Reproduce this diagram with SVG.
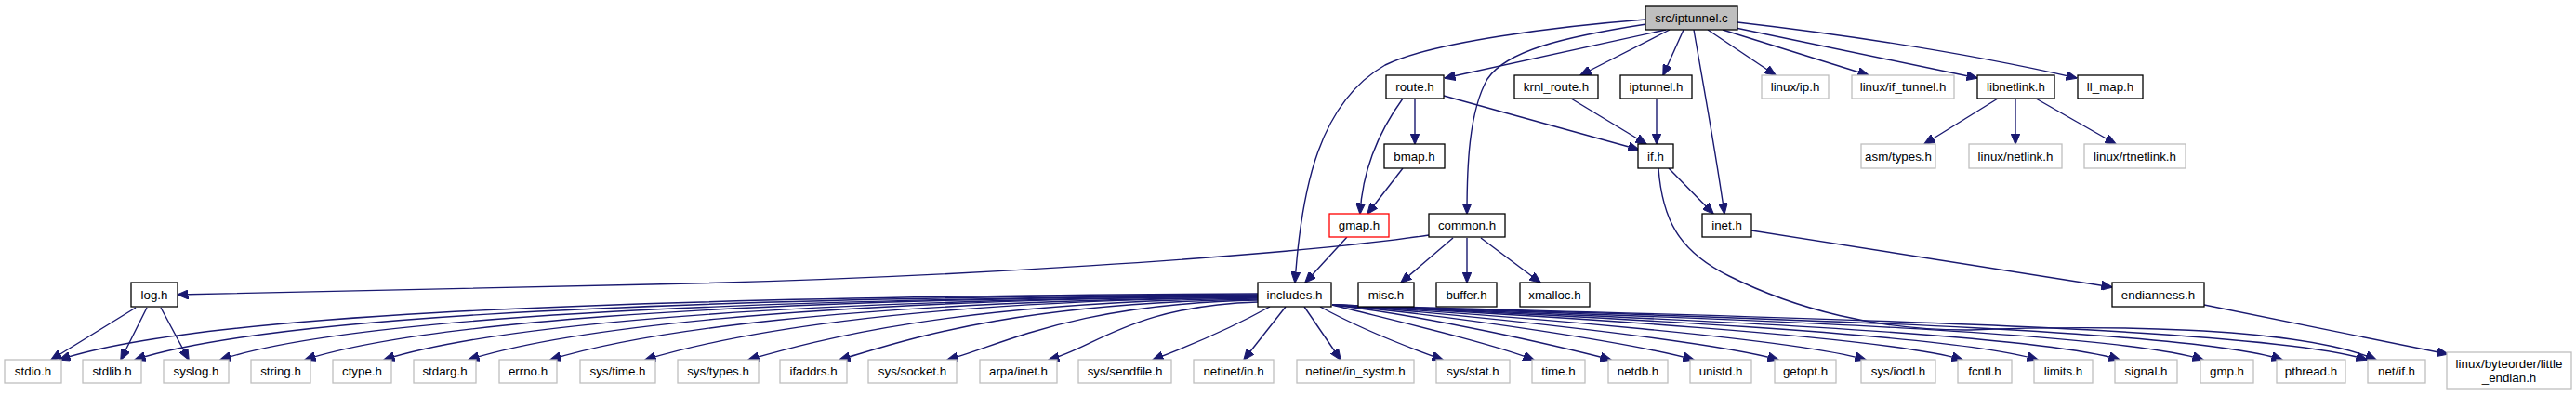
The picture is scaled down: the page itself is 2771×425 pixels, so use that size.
<svg xmlns="http://www.w3.org/2000/svg" width="2771" height="425" viewBox="0 0 2771 425">
<defs>
<style>
rect{fill:#fff;stroke:#000;stroke-width:1.3}
.x rect{stroke:#bfbfbf}
.r rect{stroke:#ff0000}
.root rect{fill:#bfbfbf}
text{font-family:"Liberation Sans",Arial,sans-serif;font-size:13.33px;text-anchor:middle;fill:#000}
#edges path{fill:none;stroke:#191970;stroke-width:1.4;marker-end:url(#ah)}
</style>
<marker id="ah" viewBox="0 0 12 10" refX="11.5" refY="5" markerWidth="12" markerHeight="10" markerUnits="userSpaceOnUse" orient="auto"><path d="M0,0 L12,5 L0,10 z" fill="#191970" stroke="#191970" stroke-width="1"/></marker>
</defs>
<rect x="0" y="0" width="2771" height="425" style="fill:#fff;stroke:none"/>
<g id="edges">
<path d="M1792,32 L1554,84"/>
<path d="M1796,32 L1700,81"/>
<path d="M1811,32 L1789,81"/>
<path d="M1837,32 L1910,81"/>
<path d="M1853,32 L2010,81"/>
<path d="M1867,30 L2127,84"/>
<path d="M1869,24 C1990,38 2120,58 2234,84"/>
<path d="M1822,32 C1832,90 1845,160 1855,230"/>
<path d="M1771,26 C1680,40 1620,55 1600,85 C1580,120 1578,180 1578,230"/>
<path d="M1770,21 C1680,28 1540,45 1490,70 C1420,110 1400,200 1393,304"/>
<path d="M1522,106 L1522,155"/>
<path d="M1509,106 C1488,135 1466,175 1463,230"/>
<path d="M1509,181 L1471,230"/>
<path d="M1553,103 L1763,161"/>
<path d="M1690,106 L1771,155"/>
<path d="M1782,106 L1782,155"/>
<path d="M1795,181 L1843,230"/>
<path d="M1784,181 C1788,235 1805,270 1860,297 C1930,332 2020,356 2120,355 C2250,350 2470,350 2556,387"/>
<path d="M2149,106 L2070,155"/>
<path d="M2168,106 L2168,155"/>
<path d="M2190,106 L2276,155"/>
<path d="M1449,255 L1404,304"/>
<path d="M1537,253 C1380,276 1000,300 700,306 C500,310 300,316 191,317"/>
<path d="M1563,256 L1507,304"/>
<path d="M1578,256 L1578,304"/>
<path d="M1593,256 L1657,304"/>
<path d="M1884,248 L2272,309"/>
<path d="M2371,328 L2633,381"/>
<path d="M146,331 L55,387"/>
<path d="M158,331 L130,387"/>
<path d="M173,331 L203,387"/>
<path d="M1353,316 C580,320 197,343 64,387"/>
<path d="M1353,317 C628,321 272,346 145,387"/>
<path d="M1353,318 C683,322 356,348 237,387"/>
<path d="M1353,318 C738,322 440,351 328,387"/>
<path d="M1353,319 C789,323 518,354 413,387"/>
<path d="M1353,319 C844,323 602,356 504,387"/>
<path d="M1353,320 C896,324 683,359 592,387"/>
<path d="M1353,320 C958,324 777,362 694,387"/>
<path d="M1353,321 C1024,325 879,366 805,387"/>
<path d="M1353,322 C1083,326 969,368 903,387"/>
<path d="M1353,323 C1153,327 1076,372 1019,387"/>
<path d="M1353,325 C1218,329 1176,375 1128,387"/>
<path d="M1366,330 C1330,350 1285,370 1240,387"/>
<path d="M1383,330 L1338,387"/>
<path d="M1403,330 L1442,387"/>
<path d="M1420,330 C1460,352 1510,372 1552,387"/>
<path d="M1433,328 C1500,345 1600,368 1650,387"/>
<path d="M1433,328 C1537,340 1679,373 1733,387"/>
<path d="M1433,328 C1568,340 1761,370 1822,387"/>
<path d="M1433,328 C1600,340 1844,368 1913,387"/>
<path d="M1433,328 C1633,340 1931,365 2007,387"/>
<path d="M1433,328 C1670,340 2027,362 2111,387"/>
<path d="M1433,328 C1698,340 2101,359 2192,387"/>
<path d="M1433,328 C1729,340 2182,357 2280,387"/>
<path d="M1433,328 C1760,340 2265,354 2370,387"/>
<path d="M1433,328 C1790,340 2343,351 2455,387"/>
<path d="M1433,328 C1822,340 2427,349 2546,387"/>
</g>
<g id="n_src" class="root"><rect x="1770" y="6" width="99" height="26"/><text x="1819.5" y="23.7">src/iptunnel.c</text></g>
<g id="n_route"><rect x="1491" y="81" width="62" height="25"/><text x="1522" y="98.2">route.h</text></g>
<g id="n_krnl_route"><rect x="1629" y="81" width="90" height="25"/><text x="1674" y="98.2">krnl_route.h</text></g>
<g id="n_iptunnel"><rect x="1743" y="81" width="77" height="25"/><text x="1781.5" y="98.2">iptunnel.h</text></g>
<g id="n_linux_ip" class="x"><rect x="1895" y="81" width="72" height="25"/><text x="1931" y="98.2">linux/ip.h</text></g>
<g id="n_linux_if_tunnel" class="x"><rect x="1992" y="81" width="110" height="25"/><text x="2047" y="98.2">linux/if_tunnel.h</text></g>
<g id="n_libnetlink"><rect x="2127" y="81" width="83" height="25"/><text x="2168.5" y="98.2">libnetlink.h</text></g>
<g id="n_ll_map"><rect x="2235" y="81" width="70" height="25"/><text x="2270" y="98.2">ll_map.h</text></g>
<g id="n_bmap"><rect x="1489" y="155" width="65" height="26"/><text x="1521.5" y="172.7">bmap.h</text></g>
<g id="n_if"><rect x="1762" y="155" width="38" height="26"/><text x="1781" y="172.7">if.h</text></g>
<g id="n_asm_types" class="x"><rect x="2002" y="155" width="80" height="26"/><text x="2042" y="172.7">asm/types.h</text></g>
<g id="n_linux_netlink" class="x"><rect x="2118" y="155" width="100" height="26"/><text x="2168" y="172.7">linux/netlink.h</text></g>
<g id="n_linux_rtnetlink" class="x"><rect x="2242" y="155" width="109" height="26"/><text x="2296.5" y="172.7">linux/rtnetlink.h</text></g>
<g id="n_gmap" class="r"><rect x="1430" y="230" width="64" height="25"/><text x="1462" y="247.2">gmap.h</text></g>
<g id="n_common"><rect x="1537" y="230" width="82" height="25"/><text x="1578" y="247.2">common.h</text></g>
<g id="n_inet"><rect x="1831" y="230" width="53" height="25"/><text x="1857.5" y="247.2">inet.h</text></g>
<g id="n_log"><rect x="141" y="304" width="50" height="26"/><text x="166" y="321.7">log.h</text></g>
<g id="n_includes"><rect x="1353" y="304" width="79" height="26"/><text x="1392.5" y="321.7">includes.h</text></g>
<g id="n_misc"><rect x="1461" y="304" width="60" height="26"/><text x="1491" y="321.7">misc.h</text></g>
<g id="n_buffer"><rect x="1545" y="304" width="65" height="26"/><text x="1577.5" y="321.7">buffer.h</text></g>
<g id="n_xmalloc"><rect x="1635" y="304" width="75" height="26"/><text x="1672.5" y="321.7">xmalloc.h</text></g>
<g id="n_endianness"><rect x="2272" y="304" width="99" height="26"/><text x="2321.5" y="321.7">endianness.h</text></g>
<g id="n_stdio" class="x"><rect x="5" y="387" width="61" height="25"/><text x="35.5" y="404.2">stdio.h</text></g>
<g id="n_stdlib" class="x"><rect x="89" y="387" width="63" height="25"/><text x="120.5" y="404.2">stdlib.h</text></g>
<g id="n_syslog" class="x"><rect x="176" y="387" width="70" height="25"/><text x="211" y="404.2">syslog.h</text></g>
<g id="n_string" class="x"><rect x="270" y="387" width="64" height="25"/><text x="302" y="404.2">string.h</text></g>
<g id="n_ctype" class="x"><rect x="358" y="387" width="63" height="25"/><text x="389.5" y="404.2">ctype.h</text></g>
<g id="n_stdarg" class="x"><rect x="445" y="387" width="67" height="25"/><text x="478.5" y="404.2">stdarg.h</text></g>
<g id="n_errno" class="x"><rect x="537" y="387" width="62" height="25"/><text x="568" y="404.2">errno.h</text></g>
<g id="n_sys_time" class="x"><rect x="624" y="387" width="81" height="25"/><text x="664.5" y="404.2">sys/time.h</text></g>
<g id="n_sys_types" class="x"><rect x="729" y="387" width="87" height="25"/><text x="772.5" y="404.2">sys/types.h</text></g>
<g id="n_ifaddrs" class="x"><rect x="839" y="387" width="72" height="25"/><text x="875" y="404.2">ifaddrs.h</text></g>
<g id="n_sys_socket" class="x"><rect x="934" y="387" width="95" height="25"/><text x="981.5" y="404.2">sys/socket.h</text></g>
<g id="n_arpa_inet" class="x"><rect x="1054" y="387" width="83" height="25"/><text x="1095.5" y="404.2">arpa/inet.h</text></g>
<g id="n_sys_sendfile" class="x"><rect x="1160" y="387" width="100" height="25"/><text x="1210" y="404.2">sys/sendfile.h</text></g>
<g id="n_netinet_in" class="x"><rect x="1284" y="387" width="86" height="25"/><text x="1327" y="404.2">netinet/in.h</text></g>
<g id="n_netinet_in_systm" class="x"><rect x="1395" y="387" width="126" height="25"/><text x="1458" y="404.2">netinet/in_systm.h</text></g>
<g id="n_sys_stat" class="x"><rect x="1545" y="387" width="79" height="25"/><text x="1584.5" y="404.2">sys/stat.h</text></g>
<g id="n_time" class="x"><rect x="1648" y="387" width="57" height="25"/><text x="1676.5" y="404.2">time.h</text></g>
<g id="n_netdb" class="x"><rect x="1730" y="387" width="64" height="25"/><text x="1762" y="404.2">netdb.h</text></g>
<g id="n_unistd" class="x"><rect x="1818" y="387" width="66" height="25"/><text x="1851" y="404.2">unistd.h</text></g>
<g id="n_getopt" class="x"><rect x="1909" y="387" width="66" height="25"/><text x="1942" y="404.2">getopt.h</text></g>
<g id="n_sys_ioctl" class="x"><rect x="2002" y="387" width="80" height="25"/><text x="2042" y="404.2">sys/ioctl.h</text></g>
<g id="n_fcntl" class="x"><rect x="2106" y="387" width="58" height="25"/><text x="2135" y="404.2">fcntl.h</text></g>
<g id="n_limits" class="x"><rect x="2188" y="387" width="63" height="25"/><text x="2219.5" y="404.2">limits.h</text></g>
<g id="n_signal" class="x"><rect x="2275" y="387" width="67" height="25"/><text x="2308.5" y="404.2">signal.h</text></g>
<g id="n_gmp" class="x"><rect x="2367" y="387" width="57" height="25"/><text x="2395.5" y="404.2">gmp.h</text></g>
<g id="n_pthread" class="x"><rect x="2449" y="387" width="74" height="25"/><text x="2486" y="404.2">pthread.h</text></g>
<g id="n_net_if" class="x"><rect x="2547" y="387" width="62" height="25"/><text x="2578" y="404.2">net/if.h</text></g>
<g id="n_little_endian" class="x"><rect x="2632" y="379" width="134" height="40"/><text x="2699" y="395.5">linux/byteorder/little</text><text x="2699" y="410.5">_endian.h</text></g>
</svg>
